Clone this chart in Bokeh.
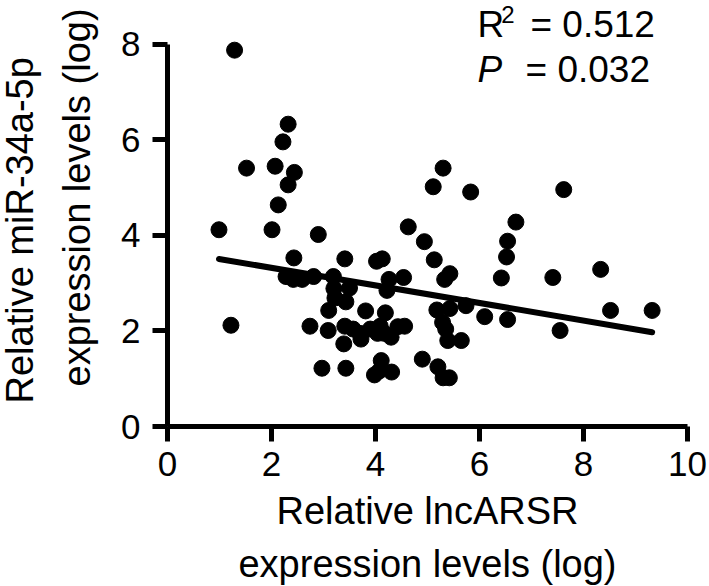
import math
from bokeh.plotting import figure
from bokeh.models import Range1d, Label, FixedTicker, Title
from bokeh.embed import file_html
from bokeh.resources import INLINE

# ---- data ----
lnc_arsr = [1.29, 1.52, 0.99, 1.22, 2.32, 2.22, 2.07, 2.44, 2.32, 2.13,
            2.01, 2.90, 2.43, 2.28, 2.42, 2.59, 2.81, 2.74, 2.97, 3.19,
            3.20, 3.22, 3.41, 3.43, 3.50, 3.10, 3.09, 3.39, 3.43, 3.41,
            3.57, 3.70, 3.72, 3.81, 3.90, 4.02, 4.13, 4.26, 4.22, 4.19,
            4.09, 4.04, 4.17, 4.30, 4.43, 4.56, 4.54, 4.11, 3.98, 4.07,
            4.31, 4.63, 4.94, 5.11, 5.30, 5.13, 5.33, 5.43, 5.18, 5.43,
            5.29, 5.35, 5.39, 5.65, 5.74, 4.90, 5.20, 5.30, 5.42, 5.83,
            6.10, 6.42, 6.52, 6.54, 6.70, 6.54, 7.41, 7.62, 7.55, 8.33,
            8.52, 9.32]
mir34a = [7.88, 5.41, 4.12, 2.12, 6.33, 5.96, 5.45, 5.32, 5.06, 4.64,
          4.12, 4.02, 3.53, 3.14, 3.08, 3.08, 3.14, 2.10, 1.22, 3.14,
          2.89, 2.69, 3.51, 2.61, 2.90, 2.43, 2.01, 1.73, 1.22, 2.10,
          2.04, 1.95, 1.83, 2.42, 2.04, 3.46, 3.51, 3.08, 2.85, 2.38,
          2.10, 1.95, 1.95, 1.87, 2.09, 2.10, 3.12, 1.38, 1.08, 1.16,
          1.14, 4.18, 3.87, 5.02, 5.41, 3.49, 3.08, 3.20, 2.44, 2.47,
          2.18, 2.04, 1.80, 1.80, 2.53, 1.41, 1.25, 1.02, 1.02, 4.91,
          2.30, 3.11, 3.55, 3.88, 4.28, 2.24, 3.12, 4.96, 2.01, 3.29,
          2.43, 2.43]
fit_slope = -0.184
fit_intercept = 3.69
x_ticks = [0, 2, 4, 6, 8, 10]
y_ticks = [0, 2, 4, 6, 8]
x_title = ["Relative lncARSR", "expression levels (log)"]
y_title = ["Relative miR-34a-5p", "expression levels (log)"]
r2_text = "0.512"
p_text = "0.032"

FONT = "Liberation Sans"
TS = "38px"

p = figure(width=708, height=585,
           x_range=Range1d(0, 10), y_range=Range1d(0, 8.92),
           output_backend="svg", toolbar_location=None,
           min_border_left=167, min_border_right=21,
           min_border_top=0, min_border_bottom=159)
p.outline_line_color = None
p.xgrid.visible = False
p.ygrid.visible = False

for ax in (p.xaxis[0], p.yaxis[0]):
    ax.axis_line_width = 5
    ax.axis_line_color = "black"
    ax.major_tick_line_width = 5
    ax.major_tick_line_color = "black"
    ax.major_tick_out = 15
    ax.major_tick_in = 0
    ax.minor_tick_line_color = None
    ax.major_label_text_font = FONT
    ax.major_label_text_font_size = "35px"
    ax.major_label_text_color = "black"

p.xaxis.ticker = FixedTicker(ticks=x_ticks)
p.yaxis.ticker = FixedTicker(ticks=y_ticks)
p.yaxis.bounds = (y_ticks[0], y_ticks[-1])
p.xaxis.bounds = (x_ticks[0], x_ticks[-1])
p.yaxis.major_label_standoff = 12
p.xaxis.major_label_standoff = 10

# regression line over the data range
lx = [min(lnc_arsr), max(lnc_arsr)]
ly = [fit_intercept + fit_slope * v for v in lx]
p.line(lx, ly, line_width=6, line_color="black", line_cap="round")

p.scatter(lnc_arsr, mir34a, size=16, marker="circle",
          fill_color="black", line_color="black")

# axis titles (two lines each)
def title(text, standoff, align="center", offset=0):
    return Title(text=text, align=align, text_font=FONT,
                 text_font_size=TS, text_font_style="normal",
                 text_color="black", standoff=standoff, offset=offset)

p.add_layout(title(x_title[0], 18), "below")
p.add_layout(title(x_title[1], 0), "below")
p.add_layout(title(y_title[1], 41, "left", 40), "left")
p.add_layout(title(y_title[0], -14, "left", 23), "left")

# statistics annotation
AS = "37px"
def lab(x, y, text, size=AS, style="normal"):
    return Label(x=x, y=y, text=text, text_font=FONT, text_font_size=size,
                 text_font_style=style, text_color="black",
                 text_baseline="alphabetic")

p.add_layout(lab(5.96, 8.418, "R"))
p.add_layout(lab(6.42, 8.63, "2", size="24px"))
p.add_layout(lab(6.98, 8.418, "= " + r2_text))
p.add_layout(lab(5.96, 7.476, "P", style="italic"))
p.add_layout(lab(6.885, 7.476, "= " + p_text))

open("out.html", "w").write(file_html(p, INLINE))
